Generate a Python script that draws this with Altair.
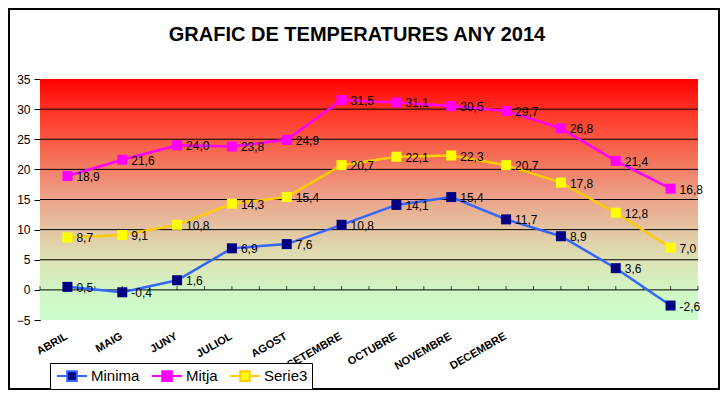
import altair as alt
import pandas as pd

# ---- data ----
title_text = "GRAFIC DE TEMPERATURES ANY 2014"
months = ["ABRIL", "MAIG", "JUNY", "JULIOL", "AGOST", "SETEMBRE", "OCTUBRE",
          "NOVEMBRE", "DECEMBRE", "", "", ""]
positions = [0, 1, 2, 3, 4, 5, 6, 7, 8, 9, 10, 11]
minima = [0.5, -0.4, 1.6, 6.9, 7.6, 10.8, 14.1, 15.4, 11.7, 8.9, 3.6, -2.6]
mitja = [18.9, 21.6, 24.0, 23.8, 24.9, 31.5, 31.1, 30.5, 29.7, 26.8, 21.4, 16.8]
serie3 = [8.7, 9.1, 10.8, 14.3, 15.4, 20.7, 22.1, 22.3, 20.7, 17.8, 12.8, 7.0]
series_names = ["Minima", "Mitja", "Serie3"]
line_colors = ["#3366FF", "#FF00FF", "#FFCC00"]
marker_colors = ["#000080", "#FF00FF", "#FFFF00"]
y_ticks = [-5, 0, 5, 10, 15, 20, 25, 30, 35]
grid_values = [0, 5, 10, 15, 20, 25, 30]
x_tick_positions = [-0.5, 0, 0.5, 1, 1.5, 2, 2.5, 3, 3.5, 4, 4.5, 5, 5.5, 6, 6.5,
                    7, 7.5, 8, 8.5, 9, 9.5, 10, 10.5, 11, 11.5]
labelled_positions = [0, 1, 2, 3, 4, 5, 6, 7, 8]
y_min, y_max = -5, 35

FONT = "Liberation Sans"

rows = []
for name, vals in zip(series_names, [minima, mitja, serie3]):
    for p, v in zip(positions, vals):
        rows.append({"series": name, "pos": p, "val": v,
                     "label": f"{v:.1f}".replace(".", ",")})
df = pd.DataFrame(rows)
grid_df = pd.DataFrame({"v": grid_values})
tick_df = pd.DataFrame({"p": x_tick_positions})
one = pd.DataFrame({"a": [0]})

label_expr = "[" + ",".join(f"'{m}'" for m in months) + "][datum.value]"

xscale = alt.Scale(domain=[-0.5, 11.5], nice=False, zero=False)
yscale = alt.Scale(domain=[y_min, y_max], nice=False, zero=False)

xaxis = alt.Axis(values=labelled_positions, labelExpr=label_expr, title=None,
                 ticks=False, domain=False, grid=False, labelAngle=-30,
                 labelAlign="right", labelBaseline="top", labelFont=FONT,
                 labelFontSize=11, labelFontWeight="bold", labelColor="black",
                 labelPadding=10, labelOffset=-4, labelOverlap=False)
yaxis = alt.Axis(values=y_ticks, title=None, grid=False, domainColor="black",
                 domainWidth=1, tickColor="black", tickSize=6, labelFont=FONT,
                 labelFontSize=12, labelColor="black", labelPadding=4,
                 labelOverlap=False)

# line + square symbol, 30px wide in a 16px legend symbol box
legend_symbol = "M-1.875,0H-0.7M0.7,0H1.875M-0.6,-0.6H0.6V0.6H-0.6Z"
legend = alt.Legend(orient="none", legendX=10, legendY=284, direction="horizontal",
                    title=None, strokeColor="black", fillColor="white", padding=4,
                    symbolType=legend_symbol, symbolSize=256, symbolStrokeWidth=2,
                    symbolOffset=9, labelOffset=10,
                    labelFont=FONT, labelFontSize=15, labelColor="black",
                    columnPadding=8)

gradient = alt.LinearGradient(
    gradient="linear", x1=0, x2=0, y1=0, y2=1,
    stops=[
        alt.GradientStop(offset=0.0, color="#FF0000"),
        alt.GradientStop(offset=0.15, color="#FF3A2A"),
        alt.GradientStop(offset=0.32, color="#F46E55"),
        alt.GradientStop(offset=0.47, color="#EE9C84"),
        alt.GradientStop(offset=0.62, color="#E4C4A2"),
        alt.GradientStop(offset=0.76, color="#DDE4B4"),
        alt.GradientStop(offset=0.88, color="#D0F6C4"),
        alt.GradientStop(offset=1.0, color="#CCFFCC"),
    ],
)

X = lambda f: alt.X(f, scale=xscale, axis=xaxis)
Y = lambda f: alt.Y(f, scale=yscale, axis=yaxis)

bg = alt.Chart(one).mark_rect(fill=gradient).encode(
    x=alt.value(0), x2=alt.value("width"),
    y=alt.Y(datum=y_max, scale=yscale, axis=yaxis), y2=alt.Y2(datum=y_min),
)

grid = alt.Chart(grid_df).mark_rule(color="black", strokeWidth=1).encode(
    y=Y("v:Q")
)

xticks = alt.Chart(tick_df).mark_tick(orient="vertical", size=4, thickness=1,
                                      color="black", yOffset=-2).encode(
    x=X("p:Q"),
    y=alt.Y(datum=0, scale=yscale, axis=yaxis),
)

lines = alt.Chart(df).mark_line(strokeWidth=2.5).encode(
    x=X("pos:Q"),
    y=Y("val:Q"),
    stroke=alt.Stroke("series:N", scale=alt.Scale(domain=series_names, range=line_colors),
                      legend=legend),
    order="pos:Q",
)

points = alt.Chart(df).mark_point(shape="square", filled=True, size=100, opacity=1).encode(
    x=X("pos:Q"),
    y=Y("val:Q"),
    fill=alt.Fill("series:N", scale=alt.Scale(domain=series_names, range=marker_colors),
                  legend=legend),
)

texts = alt.Chart(df).mark_text(align="left", baseline="middle", dx=9, dy=1,
                                font=FONT, fontSize=12, color="black").encode(
    x=X("pos:Q"),
    y=Y("val:Q"),
    text="label:N",
)

title = alt.Chart(one).mark_text(text=title_text, font=FONT, fontSize=20,
                                 fontWeight="bold", color="black",
                                 align="center", baseline="alphabetic").encode(
    x=alt.value(317), y=alt.value(-38)
)

frame = alt.Chart(one).mark_rect(
    fill="transparent", stroke="black", strokeWidth=2).encode(
    x=alt.value(-31), x2=alt.value(679), y=alt.value(-70), y2=alt.value(310)
)

chart = alt.layer(bg, grid, xticks, lines, points, texts, title, frame).properties(
    width=658, height=241,
    autosize=alt.AutoSizeParams(type="none"),
    padding={"left": 32, "top": 71, "right": 22, "bottom": 70},
    background="white",
).configure_view(stroke="transparent")

chart.save("out.html", embed_options={"renderer": "svg", "actions": False})
